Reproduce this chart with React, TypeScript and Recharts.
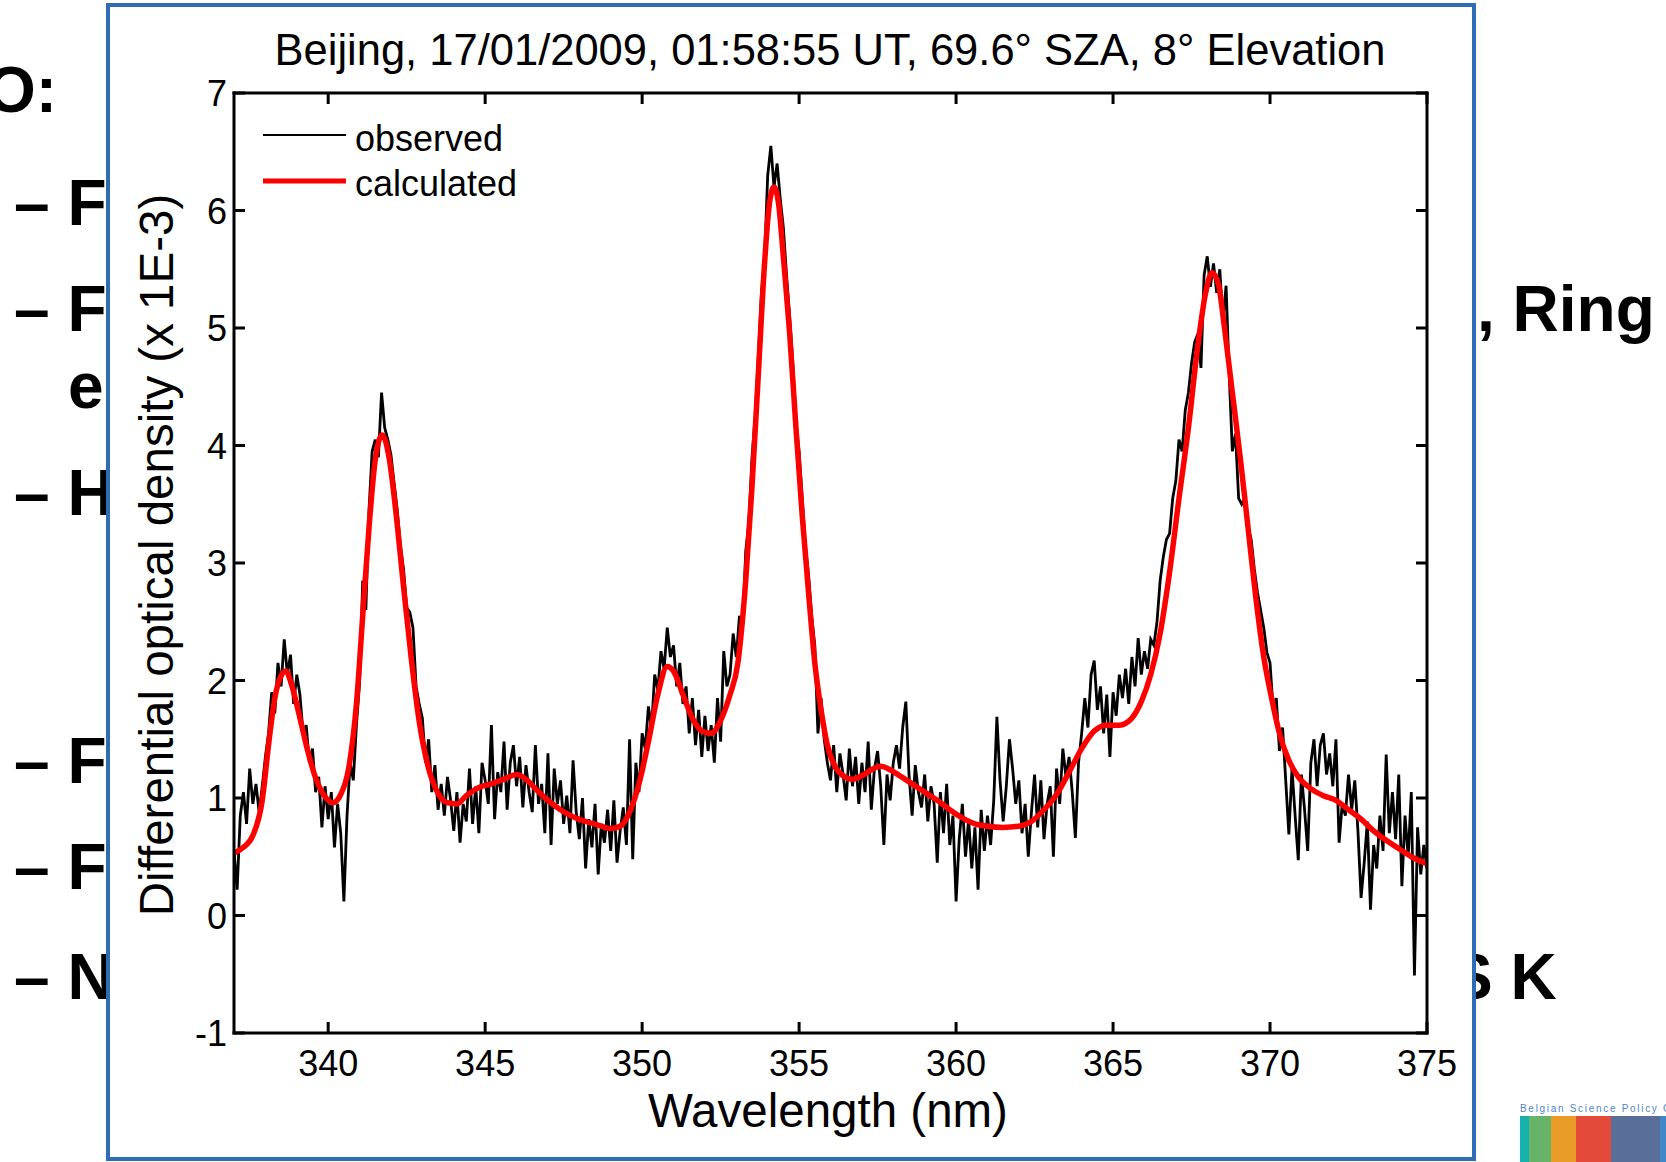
import React from "react";
import { LineChart, Line, XAxis, YAxis } from "recharts";

// ---- data ----
const xTicks = [340, 345, 350, 355, 360, 365, 370, 375];
const yTicks = [-1, 0, 1, 2, 3, 4, 5, 6, 7];

// observed spectrum, sampled every 0.1 nm from 337.0 nm
const observedStart = 337.0;
const observedStep = 0.1;
const observed337 = [
  0.55, 0.22, 0.85, 1.05, 0.78, 1.25, 0.95, 1.12, 0.88, 1.1,
  1.35, 1.55, 1.9, 1.72, 2.15, 1.95, 2.35, 2.05, 2.22, 1.8,
  2.05, 1.88, 1.55, 1.62, 1.3, 1.42, 1.05, 1.18, 0.75, 1.1,
  0.82, 1.05, 0.58, 0.95, 0.7, 0.12, 0.85, 1.3, 1.15, 1.62,
  1.98, 2.85, 2.6, 3.45, 3.95, 4.05, 3.9, 4.45, 4.15, 4.05,
  3.92, 3.68, 3.45, 3.15, 2.95, 2.62, 2.58, 2.45, 1.95, 1.8,
  1.68, 1.3, 1.5, 1.05, 1.28, 0.9, 1.12, 0.85, 1.18, 0.98,
  0.72, 1.05, 0.62, 0.95, 0.8, 1.25, 0.78, 1.1, 0.7, 1.3,
  1.15, 0.95, 1.62, 0.82, 1.22, 1.05, 1.48, 0.9, 1.3, 1.45,
  1.1, 1.35, 0.92, 1.28, 1.05, 0.88, 1.45, 0.95, 1.12, 0.7,
];
const observed347 = [
  1.38, 0.6, 1.25, 0.95, 1.15, 0.78, 1.02, 0.7, 1.32, 0.88,
  0.65, 1.0, 0.4, 0.82, 0.58, 0.95, 0.35, 0.78, 0.62, 0.9,
  0.55, 0.98, 0.45, 0.72, 0.92, 0.6, 1.5, 0.48, 1.3, 1.05,
  1.55, 1.42, 1.78, 1.6, 2.05, 1.92, 2.25, 2.1, 2.45, 2.2,
  2.3, 1.95, 2.15, 1.8, 1.95, 1.55, 1.85, 1.45, 1.75, 1.35,
  1.7, 1.4, 1.62, 1.3, 1.85, 1.48, 2.25, 1.95, 2.05, 2.4,
  2.2, 2.55, 2.45, 3.1, 3.35, 3.9, 4.25, 4.75, 5.3, 5.6,
  6.3, 6.55, 6.2, 6.4, 6.1, 5.85, 5.45, 5.1, 4.7, 4.2,
  3.95, 3.55, 3.15, 2.9, 2.55, 2.3, 1.55, 1.85, 1.5, 1.3,
  1.15, 1.45, 1.05, 1.38, 1.2, 0.98, 1.42, 1.1, 1.35, 0.95,
];
const observed357 = [
  1.3, 1.05, 1.48, 0.9, 1.25, 1.4, 1.1, 0.6, 1.2, 0.98,
  1.3, 1.45, 1.25, 1.6, 1.82, 1.2, 0.85, 1.28, 1.05, 0.92,
  1.2, 0.8, 1.1, 0.95, 0.45, 1.05, 0.7, 1.12, 0.6, 0.85,
  0.12, 0.65, 0.95, 0.5, 0.82, 0.4, 0.75, 0.22, 0.9, 0.55,
  0.85, 0.6, 0.98, 1.69, 1.15, 0.8, 1.1, 1.5, 1.25, 0.95,
  1.15, 0.7, 0.95, 0.5, 0.88, 1.2, 0.75, 1.15, 0.65, 0.95,
  1.1, 0.5, 1.25, 0.95, 1.42, 1.18, 1.35, 1.05, 0.66, 1.3,
  1.55, 1.85, 1.6, 2.05, 2.17, 1.75, 1.95, 1.55, 1.88, 1.35,
  1.9, 1.7, 2.05, 1.85, 2.1, 1.8, 2.2, 1.95, 2.36, 2.05,
  2.25, 2.1, 2.35, 2.3, 2.5, 2.85, 3.05, 3.2, 3.25, 3.55,
];
const observed367 = [
  3.7, 4.05, 3.95, 4.3, 4.45, 4.7, 4.88, 4.95, 4.66, 5.45,
  5.61, 5.35, 5.55, 5.3, 5.5, 5.05, 5.36, 4.6, 3.95, 4.1,
  3.55, 3.5, 3.55, 3.3, 3.2, 2.95, 2.75, 2.6, 2.45, 2.24,
  2.15, 1.75, 1.85, 1.4, 1.6, 1.15, 0.69, 1.25, 0.85, 0.47,
  1.2, 0.9, 0.55, 1.3, 1.5, 1.1, 1.45, 1.55, 1.2, 1.38,
  1.1, 1.5, 0.62, 0.95, 0.85, 1.2, 0.9, 1.15, 0.72, 0.15,
  0.45, 0.8, 0.05, 0.6, 0.4, 0.85, 0.55, 1.37, 0.7, 1.05,
  0.65, 1.2, 0.25, 0.85, 0.5, 1.05, -0.51, 0.75, 0.35, 0.6,
  0.4,
];

// calculated (fitted) spectrum
const calcWavelength = [
  337.0, 337.3, 337.6, 337.9, 338.1, 338.3, 338.5, 338.65, 338.85, 339.1,
  339.35, 339.6, 339.85, 340.15, 340.4, 340.65, 340.9, 341.1, 341.3, 341.5,
  341.72, 341.95, 342.15, 342.4, 342.65, 342.9, 343.2, 343.5, 343.8, 344.1,
  344.4, 344.8, 345.2, 345.6, 346.0, 346.3, 346.6, 347.0, 347.4, 347.8,
  348.2, 348.6, 349.0, 349.3, 349.6, 349.9, 350.2, 350.5, 350.8, 351.0,
  351.3, 351.6, 351.9, 352.2, 352.5, 352.8, 353.05, 353.3, 353.5, 353.7,
  353.9, 354.05, 354.2, 354.35, 354.5, 354.7, 354.9, 355.1, 355.3, 355.5,
  355.7, 355.9, 356.1, 356.4, 356.7, 357.0, 357.3, 357.6, 357.9, 358.2,
  358.6, 359.0, 359.4, 359.8, 360.2, 360.6, 361.0, 361.5, 362.0, 362.4,
  362.8, 363.2, 363.6, 364.0, 364.4, 364.8, 365.2, 365.6, 365.9, 366.2,
  366.5, 366.8, 367.1, 367.4, 367.7, 367.95, 368.15, 368.35, 368.55, 368.8,
  369.05, 369.3, 369.55, 369.8, 370.05, 370.3, 370.6, 370.9, 371.3, 371.7,
  372.1, 372.5, 372.9, 373.3, 373.7, 374.1, 374.5, 375.0,
];
const calcValue = [
  0.53, 0.58, 0.68, 0.98, 1.45, 1.85, 2.04, 2.08, 1.95, 1.68,
  1.4, 1.17, 1.03, 0.96, 1.03, 1.25, 1.8, 2.55, 3.3, 3.88,
  4.09, 3.88, 3.45, 2.8, 2.18, 1.65, 1.25, 1.04, 0.96, 0.95,
  1.02, 1.09, 1.12, 1.16, 1.2, 1.16, 1.08, 0.98, 0.9, 0.84,
  0.8, 0.77, 0.74, 0.76, 0.88, 1.12, 1.48, 1.88, 2.12, 2.08,
  1.88, 1.68, 1.57, 1.55, 1.66, 1.88, 2.15, 2.85, 3.65, 4.6,
  5.55, 6.05, 6.2, 6.05, 5.6, 4.95, 4.15, 3.4, 2.75, 2.15,
  1.75, 1.45, 1.29, 1.19, 1.16, 1.19, 1.24, 1.27, 1.24, 1.19,
  1.12, 1.05, 0.98, 0.9, 0.83, 0.78, 0.76, 0.75, 0.76, 0.8,
  0.9, 1.03, 1.22, 1.42, 1.57, 1.62, 1.62, 1.68, 1.82, 2.05,
  2.4, 2.92, 3.55, 4.15, 4.85, 5.3, 5.47, 5.38, 5.0, 4.45,
  3.9, 3.3, 2.7, 2.2, 1.85, 1.55, 1.32, 1.18, 1.08, 1.02,
  0.98, 0.9, 0.82, 0.72, 0.64, 0.57, 0.5, 0.44,
];

const observedData = [...observed337, ...observed347, ...observed357, ...observed367].map(
  (y, i) => ({ x: +(observedStart + i * observedStep).toFixed(2), y })
);
const calculatedData = calcWavelength.map((x, i) => ({ x, y: calcValue[i] }));

const FONT = "'Liberation Sans', Arial, Helvetica, sans-serif";
const TICK_LEN = 11;

// inward ticks on all four sides, labels only bottom/left
function BottomTick({ x, y, payload }: any) {
  return (
    <g>
      <line x1={x} y1={y} x2={x} y2={y - TICK_LEN} stroke="#000" strokeWidth={3} />
      <text x={x} y={y + 43} textAnchor="middle" fontSize={36} fontFamily={FONT} fill="#000">
        {payload.value}
      </text>
    </g>
  );
}
function LeftTick({ x, y, payload }: any) {
  return (
    <g>
      <line x1={x} y1={y} x2={x + TICK_LEN} y2={y} stroke="#000" strokeWidth={3} />
      <text x={x - 7} y={y + 13} textAnchor="end" fontSize={36} fontFamily={FONT} fill="#000">
        {payload.value}
      </text>
    </g>
  );
}
function TopTick({ x, y }: any) {
  return <line x1={x} y1={y} x2={x} y2={y + TICK_LEN} stroke="#000" strokeWidth={3} />;
}
function RightTick({ x, y }: any) {
  return <line x1={x} y1={y} x2={x - TICK_LEN} y2={y} stroke="#000" strokeWidth={3} />;
}

const frame = { stroke: "#000", strokeWidth: 3, strokeLinecap: "square" as const };

function SlideBackground() {
  const bullet = { fontFamily: FONT, fontWeight: 700, fontSize: 64, fill: "#000" };
  return (
    <svg width={1666} height={1162} style={{ position: "absolute", left: 0, top: 0 }}>
      <text x={-14} y={112} {...bullet}>O:</text>
      <text x={14} y={225} {...bullet}>– F</text>
      <text x={14} y={331} {...bullet}>– F</text>
      <text x={68} y={408} {...bullet}>e</text>
      <text x={14} y={515} {...bullet}>– H</text>
      <text x={14} y={783} {...bullet}>– F</text>
      <text x={14} y={889} {...bullet}>– F</text>
      <text x={14} y={999} {...bullet}>– N</text>
      <text x={1477} y={331} {...bullet}>, Ring</text>
      <text x={1450} y={999} {...bullet}>S K</text>
      {/* logo */}
      <text x={1520} y={1112} fontFamily={FONT} fontSize={10} letterSpacing={1.7} fill="#4f86c6">
        Belgian Science Policy Office
      </text>
      <rect x={1520} y={1116} width={9} height={46} fill="#17b1ad" />
      <rect x={1529} y={1116} width={22} height={46} fill="#67b36a" />
      <rect x={1551} y={1116} width={25} height={46} fill="#e89b26" />
      <rect x={1576} y={1116} width={35} height={46} fill="#e34a3a" />
      <rect x={1611} y={1116} width={49} height={46} fill="#5a6e9a" />
      <rect x={1660} y={1116} width={6} height={46} fill="#3f87c6" />
    </svg>
  );
}

export default function App() {
  return (
    <div
      style={{
        position: "absolute",
        left: 0,
        top: 0,
        width: 1666,
        height: 1162,
        overflow: "hidden",
        background: "#fff",
        fontFamily: FONT,
      }}
    >
      <SlideBackground />

      {/* picture frame on the slide */}
      <div
        style={{
          position: "absolute",
          left: 106,
          top: 3,
          width: 1370,
          height: 1158,
          boxSizing: "border-box",
          border: "4px solid #2e6db4",
          background: "#fff",
        }}
      />

      <div style={{ position: "absolute", left: 0, top: 0 }}>
        <LineChart width={1666} height={1162} margin={{ top: 83, right: 229, bottom: 59, left: 134 }}>
          <XAxis
            xAxisId="bottom"
            type="number"
            dataKey="x"
            domain={[337, 375]}
            ticks={xTicks}
            interval={0}
            allowDataOverflow
            height={70}
            tickSize={0}
            tickMargin={0}
            tickLine={false}
            axisLine={frame}
            tick={<BottomTick />}
          />
          <XAxis
            xAxisId="top"
            orientation="top"
            type="number"
            dataKey="x"
            domain={[337, 375]}
            ticks={xTicks}
            interval={0}
            allowDataOverflow
            height={10}
            tickSize={0}
            tickMargin={0}
            tickLine={false}
            axisLine={frame}
            tick={<TopTick />}
          />
          <YAxis
            yAxisId="left"
            type="number"
            domain={[-1, 7]}
            ticks={yTicks}
            interval={0}
            allowDataOverflow
            width={100}
            tickSize={0}
            tickMargin={0}
            tickLine={false}
            axisLine={frame}
            tick={<LeftTick />}
          />
          <YAxis
            yAxisId="right"
            orientation="right"
            type="number"
            domain={[-1, 7]}
            ticks={yTicks}
            interval={0}
            allowDataOverflow
            width={10}
            tickSize={0}
            tickMargin={0}
            tickLine={false}
            axisLine={frame}
            tick={<RightTick />}
          />
          <Line
            xAxisId="bottom"
            yAxisId="left"
            data={observedData}
            dataKey="y"
            type="linear"
            stroke="#000"
            strokeWidth={2.8}
            dot={false}
            activeDot={false}
            isAnimationActive={false}
          />
          <Line
            xAxisId="top"
            yAxisId="right"
            data={calculatedData}
            dataKey="y"
            type="monotone"
            stroke="#ff0000"
            strokeWidth={5.5}
            dot={false}
            activeDot={false}
            isAnimationActive={false}
          />
        </LineChart>
      </div>

      {/* title, axis labels, legend */}
      <svg width={1666} height={1162} style={{ position: "absolute", left: 0, top: 0, pointerEvents: "none" }}>
        <text x={830} y={65} textAnchor="middle" fontFamily={FONT} fontSize={43.5} fill="#000">
          Beijing, 17/01/2009, 01:58:55 UT, 69.6° SZA, 8° Elevation
        </text>
        <text x={828} y={1127} textAnchor="middle" fontFamily={FONT} fontSize={47.5} fill="#000">
          Wavelength (nm)
        </text>
        <text
          transform="translate(173, 555) rotate(-90)"
          textAnchor="middle"
          fontFamily={FONT}
          fontSize={47.5}
          fill="#000"
        >
          Differential optical density (x 1E-3)
        </text>
        <line x1={263} y1={135} x2={346} y2={135} stroke="#000" strokeWidth={2} />
        <text x={355} y={151} fontFamily={FONT} fontSize={36} fill="#000">observed</text>
        <line x1={263} y1={181} x2={346} y2={181} stroke="#ff0000" strokeWidth={5} />
        <text x={355} y={196} fontFamily={FONT} fontSize={36} fill="#000">calculated</text>
      </svg>
    </div>
  );
}
